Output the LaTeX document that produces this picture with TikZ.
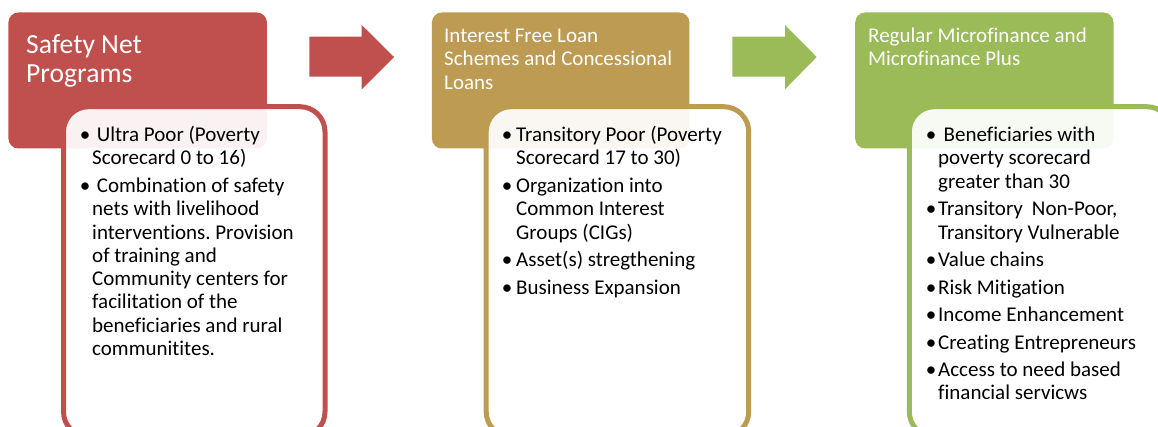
\documentclass[tikz,border=0pt]{standalone}
\usepackage{fontspec}
\setmainfont{Carlito}[Ligatures={NoCommon}]
\definecolor{netred}{HTML}{C0504D}
\definecolor{loantan}{HTML}{BE9B53}
\definecolor{mfgreen}{HTML}{9BBB59}
\newcommand\bulA{\makebox[12pt][l]{\makebox[10pt]{•}}}
\newcommand\bulB{\makebox[14pt][l]{\makebox[10pt]{•}}}
\frenchspacing
\tikzset{
  headbox/.style={fill=#1, draw=none, rounded corners=10pt, anchor=north west, inner sep=0pt},
  contentbox/.style={draw=#1, line width=5pt, fill=white, fill opacity=0.93, rounded corners=25pt, anchor=north west, inner sep=0pt},
  flowarrow/.style={fill=#1, draw=none},
  headtext/.style={text=white, anchor=base west, inner sep=0pt, font=\fontsize{21}{23.5}\selectfont},
  bigheadtext/.style={text=white, anchor=base west, inner sep=0pt, font=\fontsize{27.6}{29}\selectfont},
  bodytext/.style={text=black, anchor=base west, inner sep=0pt, font=\fontsize{21}{23.3}\selectfont},
}
\begin{document}
\begin{tikzpicture}[x=1pt,y=-1pt]
\useasboundingbox (0,0) rectangle (1158,427);
\clip (0,0) rectangle (1158,427);
% header boxes
\node[headbox=netred, minimum width=258.5pt, minimum height=136pt] (h1) at (8.2,12.3) {};
\node[headbox=loantan, minimum width=257.5pt, minimum height=136pt] (h2) at (431.7,12.3) {};
\node[headbox=mfgreen, minimum width=258.3pt, minimum height=136pt] (h3) at (855,12.3) {};
% arrows
\coordinate (a1) at (309.3,57);
\coordinate (a2) at (732.3,57);
\fill[flowarrow=netred] (a1) ++(0,-20.3) -- ++(52.4,0) -- ++(0,-11.7) -- ++(32.3,32) -- ++(-32.3,32.3) -- ++(0,-12.6) -- ++(-52.4,0) -- cycle;
\fill[flowarrow=mfgreen] (a2) ++(0,-20.3) -- ++(52.7,0) -- ++(0,-11.7) -- ++(31.7,32) -- ++(-31.7,32.3) -- ++(0,-12.6) -- ++(-52.7,0) -- cycle;
% content boxes
\node[contentbox=netred, minimum width=261.5pt, minimum height=330pt] (c1) at (61,104.2) {};
\node[contentbox=loantan, minimum width=262.5pt, minimum height=330pt] (c2) at (483.7,104.2) {};
\node[contentbox=mfgreen, minimum width=262.5pt, minimum height=330pt] (c3) at (906.8,104.2) {};
% header texts
\node[bigheadtext] (t1) at (26,53.3) {\begin{tabular}[t]{@{}l@{}}Safety Net\\Programs\end{tabular}};
\node[headtext] (t2) at (444,42.3) {\begin{tabular}[t]{@{}l@{}}Interest Free Loan\\Schemes and Concessional\\Loans\end{tabular}};
\node[headtext] (t3) at (868,42.3) {\begin{tabular}[t]{@{}l@{}}Regular Microfinance and\\Microfinance Plus\end{tabular}};
% body texts
\node[bodytext] (l1) at (80,141.7) {\begin{tabular}[t]{@{}l@{}l@{}}
\bulA & \hspace{4.7pt}Ultra Poor (Poverty\\
 & Scorecard 0 to 16)\\[4.2pt]
\bulA & \hspace{4.7pt}Combination of safety\\
 & nets with livelihood\\
 & interventions. Provision\\
 & of training and\\
 & Community centers for\\
 & facilitation of the\\
 & beneficiaries and rural\\
 & communitites.
\end{tabular}};
\node[bodytext] (l2) at (502,141.7) {\begin{tabular}[t]{@{}l@{}l@{}}
\bulB & Transitory Poor (Poverty\\
 & Scorecard 17 to 30)\\[4.2pt]
\bulB & Organization into\\
 & Common Interest\\
 & Groups (CIGs)\\[4.2pt]
\bulB & Asset(s) stregthening\\[4.2pt]
\bulB & Business Expansion
\end{tabular}};
\node[bodytext] (l3) at (926,141.7) {\begin{tabular}[t]{@{}l@{}l@{}}
\bulA & \hspace{5.5pt}Beneficiaries with\\
 & poverty scorecard\\
 & greater than 30\\[4.2pt]
\bulA & Transitory\hspace{9pt}Non-Poor,\\
 & Transitory Vulnerable\\[4.2pt]
\bulA & Value chains\\[4.2pt]
\bulA & Risk Mitigation\\[4.2pt]
\bulA & Income Enhancement\\[4.2pt]
\bulA & Creating Entrepreneurs\\[4.2pt]
\bulA & Access to need based\\
 & financial servicws
\end{tabular}};
\end{tikzpicture}
\end{document}
